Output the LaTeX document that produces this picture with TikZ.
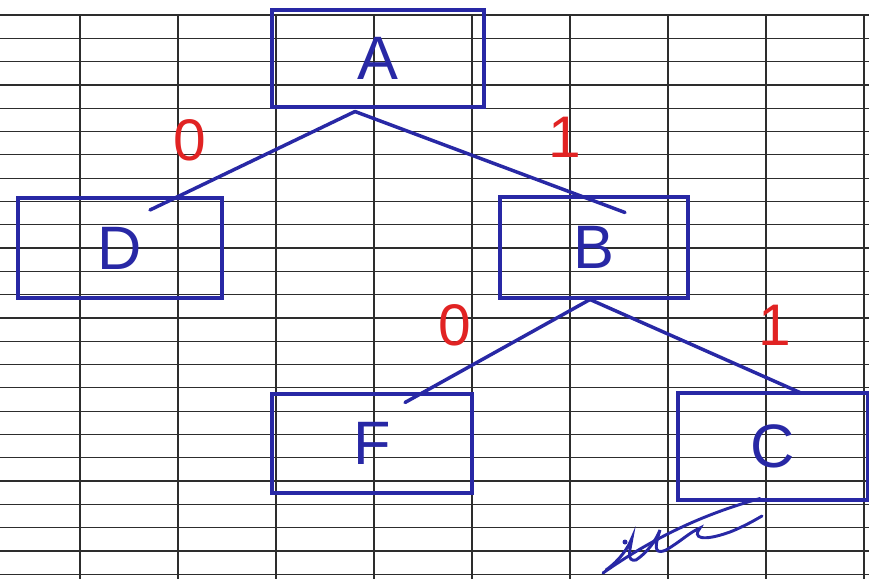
\documentclass[tikz,border=0pt]{standalone}
\usepackage{fontspec}
\setmainfont{Liberation Sans}
\definecolor{ink}{RGB}{40,40,165}
\definecolor{redink}{RGB}{225,35,35}
\definecolor{gridc}{RGB}{45,45,45}
\begin{document}
\begin{tikzpicture}[x=0.75pt,y=-0.75pt,
  box/.style={draw=ink,line width=3pt,rectangle,inner sep=0pt,text=ink,
    font=\fontsize{46}{48}\selectfont},
  edge/.style={draw=ink,line width=2.6pt,line cap=round},
  bit/.style={text=redink,font=\fontsize{44}{46}\selectfont,inner sep=0pt},
  gridline/.style={draw=gridc,line width=0.9pt}]
\useasboundingbox (0,0) rectangle (869,579);
\fill[white] (0,0) rectangle (869,579);
% paper grid
\foreach \k in {0,...,24} {\draw[gridline] (0,15+23.3*\k) -- (869,15+23.3*\k);}
\foreach \k in {0,...,8} {\draw[gridline] (80+98*\k,15) -- (80+98*\k,579);}
% nodes
\node[box,minimum width=159pt,minimum height=72.75pt] (A) at (378,58) {A};
\node[box,minimum width=153pt,minimum height=75pt] (D) at (120,248) {D};
\node[box,minimum width=141pt,minimum height=75.75pt] (B) at (594,247) {B};
\node[box,minimum width=150pt,minimum height=74.25pt] (F) at (372,443) {F};
\node[box,minimum width=142.5pt,minimum height=80.25pt] (C) at (773,446) {C};
% edges
\draw[edge] ([shift={(-23,3)}]A.south) -- ([shift={(30,14)}]D.north);
\draw[edge] ([shift={(-23,3)}]A.south) -- ([shift={(31,18)}]B.north);
\draw[edge] ([shift={(-4,0)}]B.south) -- ([shift={(33,11)}]F.north);
\draw[edge] ([shift={(-4,0)}]B.south) -- ([shift={(27,2)}]C.north);
% bit labels
\node[bit] (l1) at (190,140) {0};
\node[bit] (l2) at (565,137) {1};
\node[bit] (l3) at (455,325) {0};
\node[bit] (l4) at (775,325) {1};
% scribble under C
\coordinate (s0) at ([shift={(-13,-3)}]C.south);
\draw[edge,line width=2.2pt] (s0) .. controls (700,515) and (650,540) .. (603,573);
\draw[edge,line width=2.2pt] (606,570) .. controls (620,560) and (628,548) .. (632,538)
  .. controls (630,550) and (626,562) .. (636,560)
  .. controls (648,552) and (656,540) .. (660,530)
  .. controls (656,543) and (652,556) .. (666,550)
  .. controls (680,542) and (690,532) .. (700,528)
  .. controls (692,538) and (702,542) .. (730,532)
  .. controls (745,526) and (755,520) .. (762,516);
\fill[ink] (625,542) circle (2.5);
\end{tikzpicture}
\end{document}
